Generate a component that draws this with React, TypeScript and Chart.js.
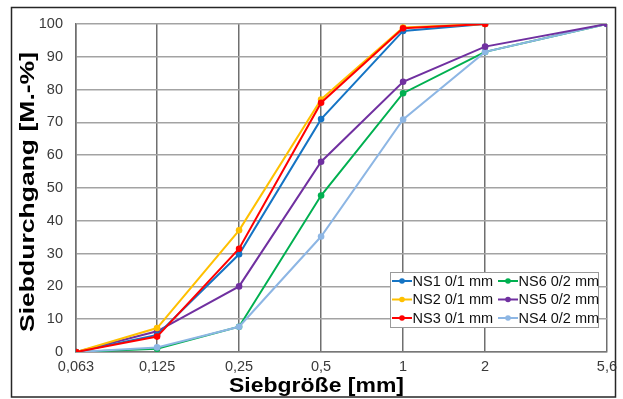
import React, { useEffect, useRef } from "react";
import { Chart, registerables } from "chart.js";

Chart.register(...registerables);

// Sieve sizes in mm and their axis labels (German decimal comma)
const sieveSizes = [0.063, 0.125, 0.25, 0.5, 1, 2, 5.6];
const sieveLabels = ["0,063", "0,125", "0,25", "0,5", "1", "2", "5,6"];
const yTicks = [0, 10, 20, 30, 40, 50, 60, 70, 80, 90, 100];

// Passing percentages [M.-%] per sand
const ns1 = [0, 5.2, 29.8, 71.0, 97.9, 100, null];
const ns2 = [0, 7.3, 37.1, 77.0, 98.9, 100, null];
const ns3 = [0, 4.7, 31.5, 76.0, 98.7, 100, null];
const ns6 = [0, 1.0, 7.7, 47.7, 78.9, 91.5, 100];
const ns5 = [0, 6.3, 20.0, 58.0, 82.4, 93.1, 100];
const ns4 = [0, 1.4, 7.7, 35.2, 70.9, 91.5, 100];

const seriesNames = ["NS1 0/1 mm", "NS2 0/1 mm", "NS3 0/1 mm", "NS6 0/2 mm", "NS5 0/2 mm", "NS4 0/2 mm"];
const seriesValues = [ns1, ns2, ns3, ns6, ns5, ns4];
const seriesColors = ["#1574C4", "#FFC000", "#FF0000", "#00B050", "#7030A0", "#8DB6E4"];
// stacking order: lower number is drawn on top
const seriesOrder = [2, 1, 0, 5, 3, 4];
// legend grid: two columns, three rows
const legendColumns = [
  [0, 1, 2],
  [3, 4, 5],
];

const FONT = "'Liberation Sans', Arial, Helvetica, sans-serif";

const framePlugin = {
  id: "frame",
  beforeDraw(chart: any) {
    const { ctx, width, height } = chart;
    ctx.save();
    ctx.fillStyle = "#ffffff";
    ctx.fillRect(0, 0, width, height);
    ctx.restore();
  },
  afterDraw(chart: any) {
    const { ctx, chartArea } = chart;
    ctx.save();
    // outer frame
    ctx.strokeStyle = "#262626";
    ctx.lineWidth = 1.5;
    ctx.strokeRect(11.5, 7.5, 604, 389.5);

    // axis titles, stretched to their printed widths
    ctx.fillStyle = "#000000";
    ctx.textAlign = "center";
    ctx.textBaseline = "alphabetic";

    ctx.font = `bold 20.5px ${FONT}`;
    const xt = "Siebgröße [mm]";
    const xw = ctx.measureText(xt).width;
    ctx.save();
    ctx.translate(316.5, 392);
    ctx.scale(175 / xw, 1);
    ctx.fillText(xt, 0, 0);
    ctx.restore();

    ctx.font = `bold 21px ${FONT}`;
    const yt = "Siebdurchgang [M.-%]";
    const yw = ctx.measureText(yt).width;
    ctx.save();
    ctx.translate(34, 192);
    ctx.rotate(-Math.PI / 2);
    ctx.scale(280 / yw, 1);
    ctx.fillText(yt, 0, 0);
    ctx.restore();

    // legend box inside the plot
    const bx = 390.5, by = 272.5, bw = 208, bh = 55;
    ctx.fillStyle = "#ffffff";
    ctx.fillRect(bx, by, bw, bh);
    ctx.strokeStyle = "#9a9a9a";
    ctx.lineWidth = 1;
    ctx.strokeRect(bx, by, bw, bh);
    const colX = [392, 498];
    const rowY = [281, 299.5, 318];
    ctx.font = `14.5px ${FONT}`;
    ctx.textAlign = "left";
    ctx.textBaseline = "middle";
    legendColumns.forEach((col, ci) => {
      col.forEach((si, ri) => {
        const x0 = colX[ci];
        const y0 = rowY[ri];
        ctx.strokeStyle = seriesColors[si];
        ctx.lineWidth = 2;
        ctx.beginPath();
        ctx.moveTo(x0, y0);
        ctx.lineTo(x0 + 20, y0);
        ctx.stroke();
        ctx.fillStyle = seriesColors[si];
        ctx.beginPath();
        ctx.arc(x0 + 10, y0, 2.8, 0, Math.PI * 2);
        ctx.fill();
        ctx.fillStyle = "#111111";
        ctx.fillText(seriesNames[si], x0 + 20.5, y0 + 0.5);
      });
    });
    ctx.restore();
  },
};

export default function App() {
  const canvasRef = useRef<HTMLCanvasElement | null>(null);

  useEffect(() => {
    if (!canvasRef.current) return;
    const datasets = seriesNames.map((name, i) => ({
      label: name,
      data: sieveSizes
        .map((s, k) => ({ x: s, y: seriesValues[i][k] }))
        .filter((p) => p.y !== null),
      borderColor: seriesColors[i],
      backgroundColor: seriesColors[i],
      borderWidth: 2,
      pointRadius: 3.3,
      pointBorderWidth: 0,
      pointBackgroundColor: seriesColors[i],
      tension: 0,
      order: seriesOrder[i],
    }));

    const chart = new Chart(canvasRef.current, {
      type: "line",
      data: { datasets },
      plugins: [framePlugin],
      options: {
        animation: false,
        responsive: false,
        devicePixelRatio: 1,
        layout: { padding: { left: 0, top: 24, right: 14, bottom: 0 } },
        plugins: {
          legend: { display: false },
          tooltip: { enabled: false },
          title: { display: false },
        },
        scales: {
          x: {
            type: "logarithmic",
            min: sieveSizes[0],
            max: sieveSizes[sieveSizes.length - 1],
            afterBuildTicks(scale: any) {
              scale.ticks = sieveSizes.map((v) => ({ value: v }));
            },
            afterFit(scale: any) {
              scale.height = 47;
            },
            grid: { color: "#6f6f6f", lineWidth: 1.5, drawTicks: false },
            border: { color: "#777777", width: 1.5 },
            ticks: {
              autoSkip: false,
              maxRotation: 0,
              padding: 6,
              color: "#3a3a3a",
              font: { family: FONT, size: 14.5 },
              callback: (_v: any, i: number) => sieveLabels[i],
            },
          },
          y: {
            type: "linear",
            min: 0,
            max: 100,
            afterBuildTicks(scale: any) {
              scale.ticks = yTicks.map((v) => ({ value: v }));
            },
            afterFit(scale: any) {
              scale.width = 76;
            },
            grid: { color: "#a3a3a3", lineWidth: 1.5, drawTicks: false },
            border: { color: "#6f6f6f", width: 1.5 },
            ticks: {
              padding: 13,
              color: "#3a3a3a",
              font: { family: FONT, size: 14.5 },
              callback: (v: any) => String(v),
            },
          },
        },
      },
    });
    return () => chart.destroy();
  }, []);

  return (
    <div style={{ position: "fixed", left: 0, top: 0, width: 623, height: 399, background: "#fff" }}>
      <canvas ref={canvasRef} width={623} height={399} style={{ display: "block" }} />
    </div>
  );
}
